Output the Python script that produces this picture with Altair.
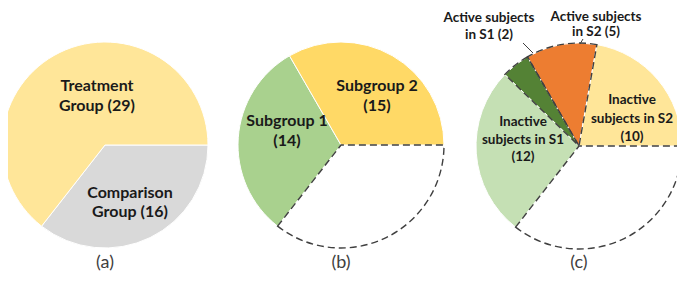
import math
import altair as alt
import pandas as pd

# ---------------- data ----------------
a_names = ["Comparison Group", "Treatment Group"]
a_values = [16, 29]
a_outlined = [False, False]

b_names = ["Comparison", "Subgroup 1", "Subgroup 2"]
b_values = [16, 14, 15]
b_outlined = [True, False, False]

c_names = ["Comparison", "Inactive S1", "Active S1", "Active S2", "Inactive S2"]
c_values = [16, 12, 2, 5, 10]
c_outlined = [True, False, True, True, False]

panel_labels = ["(a)", "(b)", "(c)"]

a_texts = ["Treatment\nGroup (29)", "Comparison\nGroup (16)"]
b_texts = ["Subgroup 2\n(15)", "Subgroup 1\n(14)"]
c_texts = ["Inactive\nsubjects in S2\n(10)", "Inactive\nsubjects in S1\n(12)",
           "Active subjects\nin S1 (2)", "Active subjects\nin S2 (5)"]

# ---------------- styles ----------------
a_colors = ["#D9D9D9", "#FFE699"]
b_colors = ["#FFFFFF", "#A9D18E", "#FFD966"]
c_colors = ["#FFFFFF", "#C5E0B4", "#548235", "#ED7D31", "#FFE699"]
OUTLINE = "#404040"
R = 103
FONT = "Lato"
TXT = "#1a1a1a"


def pie(names, values, outlined, colors, cx, cy):
    df = pd.DataFrame({
        "name": names,
        "value": values,
        "order": list(range(len(names))),
        "fill": colors,
        "edge": [OUTLINE if o else "transparent" for o in outlined],
    })
    theta = alt.Theta("value:Q", stack=True,
                      scale=alt.Scale(range=[math.pi / 2, math.pi / 2 + 2 * math.pi]))
    base = alt.Chart(df).encode(theta=theta, order=alt.Order("order:Q"),
                                x=alt.value(cx), y=alt.value(cy))
    filled = base.mark_arc(outerRadius=R, stroke="white", strokeWidth=1).encode(
        fill=alt.Fill("fill:N", scale=None))
    edges = base.mark_arc(outerRadius=R, fillOpacity=0, strokeDash=[7, 4],
                          strokeWidth=1.4).encode(stroke=alt.Stroke("edge:N", scale=None))
    return [filled, edges]


def label(text, x, y, size, line_h, bold=True, color=TXT):
    # y is the centre of the first line
    df = pd.DataFrame({"t": [text]})
    return alt.Chart(df).mark_text(
        lineBreak="\n", align="center", baseline="middle", font=FONT,
        fontWeight="bold" if bold else "normal", fontSize=size, lineHeight=line_h,
        color=color,
    ).encode(text="t:N", x=alt.value(x), y=alt.value(y))


def leader(x1, y1, x2, y2):
    df = pd.DataFrame({"k": [0]})
    return alt.Chart(df).mark_rule(color="#404040", strokeWidth=1).encode(
        x=alt.value(x1), y=alt.value(y1), x2=alt.value(x2), y2=alt.value(y2))


layers = []
layers += pie(a_names, a_values, a_outlined, a_colors, 97, 137)
layers += pie(b_names, b_values, b_outlined, b_colors, 333, 137)
layers += pie(c_names, c_values, c_outlined, c_colors, 571, 138)

layers.append(label(a_texts[0], 89, 78, 16, 20))
layers.append(label(a_texts[1], 122, 185, 16, 19))
layers.append(label(b_texts[0], 369, 78, 16, 20))
layers.append(label(b_texts[1], 279, 113, 16, 20))
layers.append(label(c_texts[0], 624, 92, 13.5, 18.5))
layers.append(label(c_texts[1], 515, 114, 13.5, 17.5))
layers.append(label(c_texts[2], 481, 10, 13.5, 17))
layers.append(label(c_texts[3], 588, 8.5, 13.5, 15.5))

layers.append(leader(515, 35, 525, 45))
layers.append(leader(575, 31, 572, 36))

for lab, x in zip(panel_labels, [97, 333, 571]):
    layers.append(label(lab, x, 255, 18, 20, bold=False, color="#404040"))

chart = alt.layer(*layers).properties(
    width=669, height=274, padding=0, autosize="none"
).configure_view(stroke=None)

chart.save("out.html", embed_options={"renderer": "svg", "actions": False})
